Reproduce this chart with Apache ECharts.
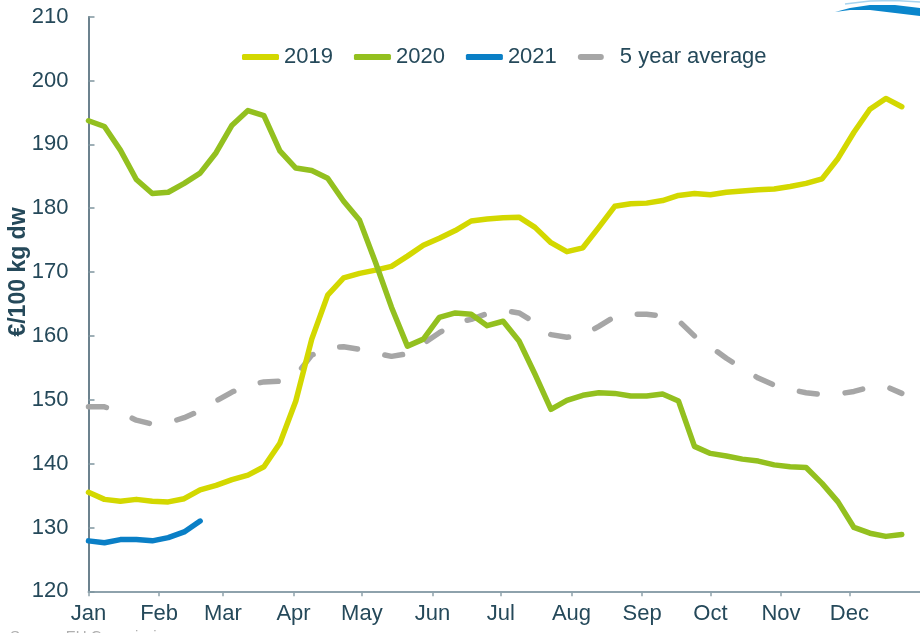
<!DOCTYPE html>
<html>
<head>
<meta charset="utf-8">
<script src="https://cdn.jsdelivr.net/npm/echarts@6/dist/echarts.min.js"></script>
<style>
html,body{margin:0;padding:0;background:#fff;}
#chart{width:920px;height:633px;}
</style>
</head>
<body>
<div id="chart"></div>
<script>
// Month tick labels and the day of year each month starts
const monthLabels = ['Jan','Feb','Mar','Apr','May','Jun','Jul','Aug','Sep','Oct','Nov','Dec'];
const monthStartDays = [0,31,59,90,120,151,181,212,243,273,304,334];
// Weekly values (week 1..52), €/100 kg dw
const series2019 = [135.5,134.4,134.1,134.4,134.1,134.0,134.5,135.9,136.6,137.5,138.2,139.5,143.2,149.8,159.5,166.4,169.1,169.8,170.3,170.9,172.5,174.2,175.3,176.5,178.0,178.3,178.5,178.6,177.0,174.6,173.2,173.8,177.0,180.3,180.7,180.8,181.2,182.0,182.3,182.1,182.5,182.7,182.9,183.0,183.4,183.9,184.6,187.8,191.9,195.5,197.2,195.9];
const series2020 = [193.7,192.8,189.1,184.5,182.3,182.5,183.9,185.5,188.7,193.0,195.3,194.5,189.0,186.3,185.9,184.7,181.1,178.1,171.5,164.5,158.4,159.5,162.9,163.6,163.4,161.6,162.3,159.2,154.0,148.5,149.9,150.7,151.1,151.0,150.6,150.6,150.9,149.8,142.7,141.6,141.2,140.7,140.4,139.8,139.5,139.4,136.9,134.0,130.0,129.1,128.6,128.9];
const series2021 = [127.9,127.6,128.1,128.1,127.9,128.4,129.3,131.0];
const seriesAvg = [148.9,148.9,148.0,146.8,146.2,146.4,147.2,148.3,149.8,151.2,152.3,152.8,152.9,153.8,157.0,158.1,158.3,157.9,157.3,156.8,157.2,158.8,160.5,162.0,162.6,163.5,164.0,163.6,162.1,160.2,159.8,160.1,161.5,163.0,163.4,163.4,163.1,162.4,160.0,158.3,156.5,154.9,153.4,152.3,151.6,151.1,150.8,150.9,151.3,152.0,152.1,151.0];
const yTicks = {min:120, max:210, interval:10};

const DAYS_PER_WEEK = 7;
function toPairs(arr){ return arr.map((v,i)=>[i*DAYS_PER_WEEK, v]); }

const textColor = '#25495a';
const font = 'Liberation Sans, Arial, sans-serif';

function lineSeries(name, data, color, dashed){
  return {
    name: name, type:'line', data: toPairs(data), showSymbol:false, symbol:'none',
    smooth:false, animation:false,
    lineStyle:{color:color, width:5.5, cap:'round', join:'round', type: dashed ? [18,28] : 'solid'},
    itemStyle:{color:color}
  };
}

// short dash + invisible anchor so the legend icon keeps a 37px footprint
const dashIcon = 'path://M3,0 L23,0 Q26,0 26,3 Q26,6 23,6 L3,6 Q0,6 0,3 Q0,0 3,0 Z M36.9,2.9 L37,2.9 L37,3 Z';

const chart = echarts.init(document.getElementById('chart'), null, {renderer:'canvas'});
chart.setOption({
  animation:false,
  backgroundColor:'#fff',
  grid:{left:88.5, right:-4, top:16.7, bottom:41.7, containLabel:false},
  legend:{
    left:237, top:41, itemWidth:37, itemHeight:6, itemGap:21, icon:'roundRect',
    textStyle:{color:textColor, fontSize:22, fontFamily:font},
    data:[{name:'2019'},{name:'2020'},{name:'2021'},{name:'5 year average', icon:dashIcon}]
  },
  xAxis:{
    type:'value', min:0, max:365,
    axisLine:{show:true, lineStyle:{color:'#8ea2ac', width:2}},
    axisTick:{show:true, customValues:monthStartDays, length:5, lineStyle:{color:'#8ea2ac', width:1.5}},
    axisLabel:{customValues:monthStartDays, margin:12, color:textColor, fontSize:22, fontFamily:font,
      formatter:function(v){ const i = monthStartDays.indexOf(Math.round(v)); return i>=0 ? monthLabels[i] : ''; }},
    splitLine:{show:false}
  },
  yAxis:{
    type:'value', min:yTicks.min, max:yTicks.max, interval:yTicks.interval,
    axisLine:{show:true, lineStyle:{color:'#3b5868', width:1.5}},
    axisTick:{show:true, inside:true, length:6, lineStyle:{color:'#7f959f', width:1.5}},
    axisLabel:{margin:20, color:textColor, fontSize:22, fontFamily:font},
    splitLine:{show:false}
  },
  graphic:[
    {type:'text', x:19, y:272, rotation:Math.PI/2,
      style:{text:'€/100 kg dw', fill:textColor, font:'bold 23px '+font, align:'center', verticalAlign:'middle'}},
    {type:'polygon', shape:{points:[[835,12],[850,8],[870,5],[895,5],[920,8],[920,16],[895,13],[870,10],[850,10]]}, style:{fill:'#0a86cc'}},
    {type:'polyline', shape:{points:[[845,4],[870,1],[895,0.5],[920,2]]}, style:{stroke:'#a8d4ef', lineWidth:1.5, fill:null}},
    {type:'text', x:10, y:629, style:{text:'Source: EU Commission', fill:'#b0b0b0', font:'15px '+font}}
  ],
  series:[
    lineSeries('5 year average', seriesAvg, '#a6a6a6', true),
    lineSeries('2019', series2019, '#d3d800', false),
    lineSeries('2020', series2020, '#93c01f', false),
    lineSeries('2021', series2021, '#0a7fc6', false)
  ]
});
</script>
</body>
</html>
